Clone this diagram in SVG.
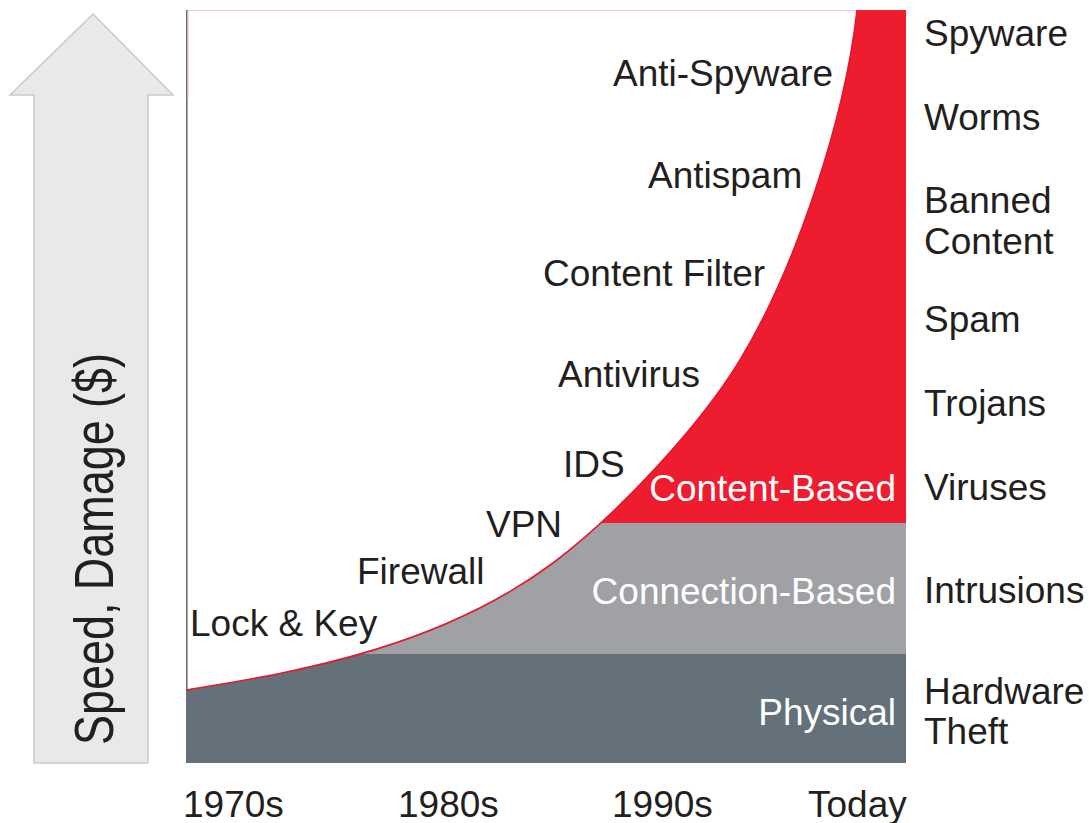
<svg xmlns="http://www.w3.org/2000/svg" width="1089" height="823" viewBox="0 0 1089 823">
<defs>
<style>
.t{font-family:"Liberation Sans",Arial,Helvetica,sans-serif;font-size:37px;fill:#231f20}
.w{font-family:"Liberation Sans",Arial,Helvetica,sans-serif;font-size:37px;fill:#ffffff;text-anchor:end}
</style>
<path id="curve" d="M186,690 C306,671 443,645 553,563 C618,514 700,426 740,360 C795,269 845,120 857,10"/>
<clipPath id="under">
<path d="M186,690 C306,671 443,645 553,563 C618,514 700,426 740,360 C795,269 845,120 857,10 L906,10 L906,763 L186,763 Z"/>
</clipPath>
</defs>
<rect width="1089" height="823" fill="#ffffff"/>
<g id="arrow">
<polygon points="93,14 173,95 148,95 148,763 34,763 34,95 10,95" fill="#e8e9eb" stroke="#c9cacc" stroke-width="1.5"/>
<text transform="translate(113,745) rotate(-90)" font-family="'Liberation Sans',Arial,sans-serif" font-size="55" fill="#231f20" textLength="392" lengthAdjust="spacingAndGlyphs">Speed, Damage ($)</text>
</g>
<g id="chart">
<g clip-path="url(#under)">
<rect x="186" y="10" width="720" height="513" fill="#ed1c2e"/>
<rect x="186" y="523" width="720" height="131" fill="#a0a1a5"/>
<rect x="186" y="654" width="720" height="109" fill="#64717a"/>
</g>
<line x1="186" y1="10.5" x2="857" y2="10.5" stroke="#f6c9ce" stroke-width="1.2"/>
<line x1="186.8" y1="10" x2="186.8" y2="763" stroke="#6e6c74" stroke-width="1.6"/>
<line x1="188" y1="10" x2="188" y2="100" stroke="#f3b8c0" stroke-width="1"/>
</g>
<g id="connectors">
<use href="#curve" fill="none" stroke="#e3192c" stroke-width="1.6"/>
</g>
<g id="band-labels">
<text class="w" x="896" y="501">Content-Based</text>
<text class="w" x="896" y="604">Connection-Based</text>
<text class="w" x="896" y="725">Physical</text>
</g>
<g id="defenses">
<text class="t" x="613" y="86">Anti-Spyware</text>
<text class="t" x="648" y="188">Antispam</text>
<text class="t" x="543" y="286">Content Filter</text>
<text class="t" x="558" y="387">Antivirus</text>
<text class="t" x="563" y="477">IDS</text>
<text class="t" x="486" y="537">VPN</text>
<text class="t" x="357" y="584">Firewall</text>
<text class="t" x="190" y="636">Lock &amp; Key</text>
</g>
<g id="threats">
<text class="t" x="924" y="46">Spyware</text>
<text class="t" x="924" y="130">Worms</text>
<text class="t" x="924" y="213">Banned</text>
<text class="t" x="924" y="254">Content</text>
<text class="t" x="924" y="332">Spam</text>
<text class="t" x="924" y="416">Trojans</text>
<text class="t" x="924" y="500">Viruses</text>
<text class="t" x="924" y="603">Intrusions</text>
<text class="t" x="924" y="704">Hardware</text>
<text class="t" x="924" y="744">Theft</text>
</g>
<g id="axis">
<text class="t" x="183" y="817">1970s</text>
<text class="t" x="398" y="817">1980s</text>
<text class="t" x="612" y="817">1990s</text>
<text class="t" x="808" y="817">Today</text>
</g>
</svg>
